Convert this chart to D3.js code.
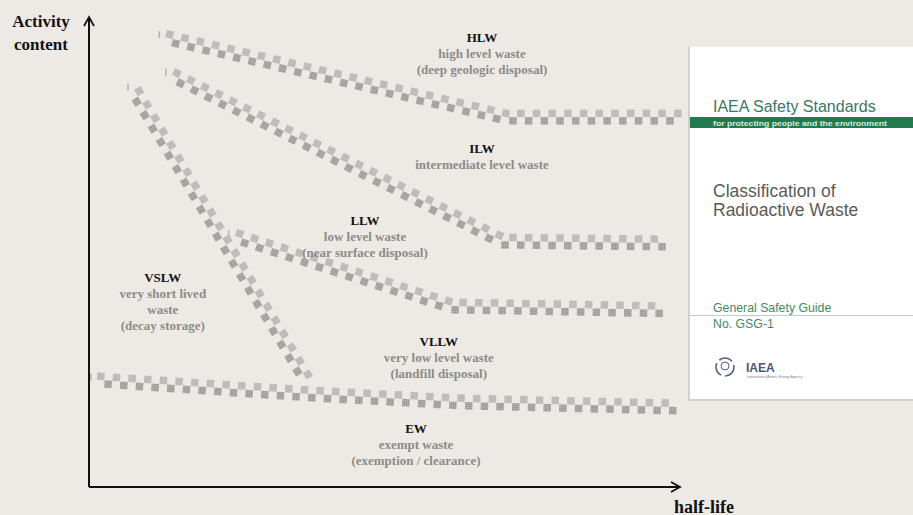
<!DOCTYPE html>
<html>
<head>
<meta charset="utf-8">
<script src="https://cdn.jsdelivr.net/npm/d3@7"></script>
<style>
  html, body { margin: 0; padding: 0; background: #edeae5; }
  svg { display: block; }
</style>
</head>
<body>
<div id="chart"></div>
<script>
// Band polylines in conceptual units: [half-life, activity content]
var hlwBand  = [[12.7, 95.7], [69.5, 78.7], [99.8, 78.7]];
var ilwBand  = [[13.8, 87.7], [69.0, 52.3], [97.2, 51.9]];
var llwBand  = [[24.3, 53.4], [60.5, 38.5], [96.8, 37.7]];
var vslwBand = [[7.5, 84.5], [36.8, 21.7]];
var ewBand   = [[1.3, 22.8], [36.8, 19.8], [61.8, 18.1], [98.5, 17.0]];
var bands = [hlwBand, ilwBand, llwBand, vslwBand, ewBand];

// Class labels: anchor [x, y] in units, bold title, grey lines
var labelNames = ['HLW', 'ILW', 'LLW', 'VSLW', 'VLLW', 'EW'];
var labelAnchors = [[65.5, 94.7], [65.5, 71.1], [46.0, 55.7], [12.3, 43.6], [58.3, 30.0], [54.5, 11.5]];
var labelLines = [
  ['high level waste', '(deep geologic disposal)'],
  ['intermediate level waste'],
  ['low level waste', '(near surface disposal)'],
  ['very short lived', 'waste', '(decay storage)'],
  ['very low level waste', '(landfill disposal)'],
  ['exempt waste', '(exemption / clearance)']
];

var W = 913, H = 515;
var x = d3.scaleLinear().domain([0, 100]).range([89, 689]);
var y = d3.scaleLinear().domain([0, 100]).range([487, 17]);

var svg = d3.select('#chart').append('svg')
  .attr('width', W).attr('height', H)
  .attr('viewBox', [0, 0, W, H]);

svg.append('rect').attr('width', W).attr('height', H).attr('fill', '#edeae5');

// hatch pattern for the darker squares
var defs = svg.append('defs');
var pat = defs.append('pattern')
  .attr('id', 'hatch').attr('patternUnits', 'userSpaceOnUse')
  .attr('width', 2).attr('height', 2);
pat.append('rect').attr('width', 2).attr('height', 2).attr('fill', '#b0aeab');
pat.append('rect').attr('width', 1).attr('height', 1).attr('fill', '#8e8c8a');

// ---- checkered bands ----
var SQ = 7.5, P = 15.7;
function squaresFor(pts) {
  var px = pts.map(function(p) { return [x(p[0]), y(p[1])]; });
  var segs = [], total = 0;
  for (var i = 0; i < px.length - 1; i++) {
    var dx = px[i + 1][0] - px[i][0], dy = px[i + 1][1] - px[i][1];
    var len = Math.sqrt(dx * dx + dy * dy);
    segs.push({ a: px[i], dx: dx, dy: dy, len: len, start: total });
    total += len;
  }
  function at(s) {
    for (var k = 0; k < segs.length; k++) {
      var sg = segs[k];
      if (s <= sg.start + sg.len || k === segs.length - 1) {
        var t = (s - sg.start) / sg.len;
        return { x: sg.a[0] + sg.dx * t, y: sg.a[1] + sg.dy * t,
                 ang: Math.atan2(sg.dy, sg.dx) };
      }
    }
  }
  var out = [];
  for (var s = SQ / 2; s < total - SQ / 2; s += P) {
    var p1 = at(s);
    out.push({ x: p1.x + Math.sin(p1.ang) * SQ / 2, y: p1.y - Math.cos(p1.ang) * SQ / 2,
               ang: p1.ang, top: true });
    if (s + P / 2 < total - SQ / 2) {
      var p2 = at(s + P / 2);
      out.push({ x: p2.x - Math.sin(p2.ang) * SQ / 2, y: p2.y + Math.cos(p2.ang) * SQ / 2,
                 ang: p2.ang, top: false });
    }
  }
  return { squares: out, first: px[0] };
}

var bandG = svg.append('g');
bands.forEach(function(b) {
  var r = squaresFor(b);
  var g = bandG.append('g');
  g.selectAll('rect')
    .data(r.squares)
    .join('rect')
    .attr('x', -SQ / 2).attr('y', -SQ / 2)
    .attr('width', SQ).attr('height', SQ)
    .attr('fill', function(d) { return d.top ? '#bebdbb' : 'url(#hatch)'; })
    .attr('transform', function(d) {
      return 'translate(' + d.x + ',' + d.y + ') rotate(' + (d.ang * 180 / Math.PI) + ')';
    });
  // little start tick
  g.append('line')
    .attr('x1', r.first[0] - 6).attr('x2', r.first[0] - 6)
    .attr('y1', r.first[1] - 6).attr('y2', r.first[1] + 1)
    .attr('stroke', '#a5a4a2').attr('stroke-width', 1.2);
});

// ---- axes ----
var axisG = svg.append('g').attr('stroke', '#111').attr('stroke-width', 2).attr('fill', 'none');
axisG.append('path').attr('d', 'M' + x(0) + ',' + y(0) + 'V' + y(100));
axisG.append('path').attr('d', 'M' + x(0) + ',' + y(0) + 'H' + x(98.5));
axisG.append('path').attr('stroke-width', 1.8)
  .attr('d', 'M' + (x(0) - 5) + ',' + (y(100) + 9) + 'L' + x(0) + ',' + y(100) + 'L' + (x(0) + 5) + ',' + (y(100) + 9));
axisG.append('path').attr('stroke-width', 1.8)
  .attr('d', 'M' + (x(98.5) - 9) + ',' + (y(0) - 5) + 'L' + x(98.5) + ',' + y(0) + 'L' + (x(98.5) - 9) + ',' + (y(0) + 5));

var serif = '"Liberation Serif", "DejaVu Serif", serif';
svg.append('text').attr('x', 41).attr('y', 27)
  .attr('text-anchor', 'middle').attr('font-family', serif).attr('font-weight', 'bold')
  .attr('font-size', 17).attr('fill', '#111').text('Activity');
svg.append('text').attr('x', 41).attr('y', 50)
  .attr('text-anchor', 'middle').attr('font-family', serif).attr('font-weight', 'bold')
  .attr('font-size', 17).attr('fill', '#111').text('content');
svg.append('text').attr('x', 704).attr('y', 513)
  .attr('text-anchor', 'middle').attr('font-family', serif).attr('font-weight', 'bold')
  .attr('font-size', 18).attr('fill', '#111').text('half-life');

// ---- class labels ----
labelNames.forEach(function(name, i) {
  var t = svg.append('text')
    .attr('x', x(labelAnchors[i][0])).attr('y', y(labelAnchors[i][1]))
    .attr('text-anchor', 'middle').attr('font-family', serif)
    .attr('font-weight', 'bold').attr('font-size', 13);
  t.append('tspan').attr('fill', '#111').text(name);
  labelLines[i].forEach(function(l) {
    t.append('tspan').attr('x', x(labelAnchors[i][0])).attr('dy', 16)
      .attr('fill', '#8c8a88').text(l);
  });
});

// ---- IAEA cover ----
var sans = '"Liberation Sans", Arial, sans-serif';
var cover = svg.append('g');
cover.append('rect').attr('x', 688).attr('y', 47).attr('width', 225).attr('height', 354)
  .attr('fill', '#d2d0cb');
cover.append('rect').attr('x', 690).attr('y', 47).attr('width', 223).attr('height', 352)
  .attr('fill', '#ffffff');
cover.append('text').attr('x', 713).attr('y', 112)
  .attr('font-family', sans).attr('font-size', 16).attr('fill', '#3b7766')
  .text('IAEA Safety Standards');
cover.append('rect').attr('x', 690).attr('y', 117).attr('width', 223).attr('height', 11)
  .attr('fill', '#237a4e');
cover.append('text').attr('x', 713).attr('y', 125.5)
  .attr('font-family', sans).attr('font-size', 7.5).attr('font-weight', 'bold')
  .attr('fill', '#d9ece0').attr('textLength', 174).attr('lengthAdjust', 'spacingAndGlyphs')
  .text('for protecting people and the environment');
cover.append('text').attr('x', 713).attr('y', 197)
  .attr('font-family', sans).attr('font-size', 17.5).attr('fill', '#5a5a5a')
  .text('Classification of');
cover.append('text').attr('x', 713).attr('y', 216)
  .attr('font-family', sans).attr('font-size', 17.5).attr('fill', '#5a5a5a')
  .text('Radioactive Waste');
cover.append('text').attr('x', 713).attr('y', 312)
  .attr('font-family', sans).attr('font-size', 12.3).attr('fill', '#3f8a62')
  .text('General Safety Guide');
cover.append('line').attr('x1', 690).attr('x2', 913).attr('y1', 315.5).attr('y2', 315.5)
  .attr('stroke', '#b9cfc4').attr('stroke-width', 1);
cover.append('text').attr('x', 713).attr('y', 328)
  .attr('font-family', sans).attr('font-size', 12.3).attr('fill', '#3f8a62')
  .text('No. GSG-1');
cover.append('circle').attr('cx', 725).attr('cy', 367).attr('r', 9)
  .attr('fill', 'none').attr('stroke', '#56627a').attr('stroke-width', 1.6)
  .attr('stroke-dasharray', '14 4');
cover.append('circle').attr('cx', 725).attr('cy', 366).attr('r', 4)
  .attr('fill', 'none').attr('stroke', '#56627a').attr('stroke-width', 1);
cover.append('text').attr('x', 746).attr('y', 372)
  .attr('font-family', sans).attr('font-size', 12).attr('font-weight', 'bold')
  .attr('fill', '#4c5670').text('IAEA');
cover.append('text').attr('x', 747).attr('y', 378)
  .attr('font-family', sans).attr('font-size', 3.5).attr('fill', '#7a8094')
  .text('International Atomic Energy Agency');
</script>
</body>
</html>
